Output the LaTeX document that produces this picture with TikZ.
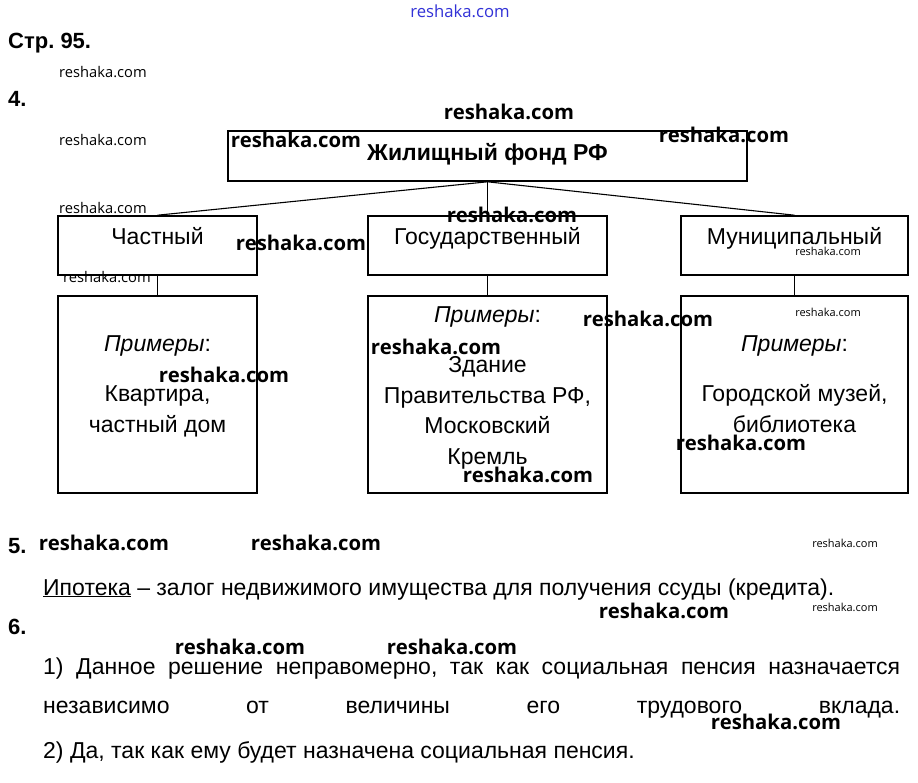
\documentclass[tikz,border=0pt]{standalone}
\usepackage{fontspec}
\setmainfont{Liberation Sans}
\newfontfamily\wmfont{Open Sans}
\usetikzlibrary{positioning}
\frenchspacing

\definecolor{wmblue}{RGB}{50,50,215}

\tikzset{
  box/.style={draw, line width=1.6pt, inner sep=0pt},
  link/.style={line width=1.1pt},
  txt/.style={font=\fontsize{23}{30.5}\selectfont, inner sep=0pt},
  head/.style={font=\bfseries\fontsize{23}{27}\selectfont, inner sep=0pt},
  num/.style={font=\bfseries\fontsize{22}{26}\selectfont, inner sep=0pt, anchor=base west},
  wm/.style={font=\wmfont\bfseries\fontsize{20.3}{24}\selectfont, inner sep=0pt},
  wmsmall/.style={font=\wmfont\fontsize{14.7}{17}\selectfont, inner sep=0pt},
  wmtiny/.style={font=\wmfont\fontsize{11}{13}\selectfont, inner sep=0pt},
  wmtop/.style={font=\wmfont\fontsize{16.7}{19}\selectfont, text=wmblue, inner sep=0pt},
}

\begin{document}
\begin{tikzpicture}[x=1pt,y=-1pt]
  \useasboundingbox (0,0) rectangle (918,782);
  \fill[white] (0,0) rectangle (918,782);

  % Page and task numbers
  \node[num] (page) at (8,48) {Стр. 95.};
  \node[num] (task4) at (8,106) {4.};

  % Root of the scheme
  \node[box, minimum width=519, minimum height=50] (root) at (487.5,156) {};
  \node[head, anchor=base] (rootT) at (487.5,160) {Жилищный фонд РФ};

  % Three kinds of ownership
  \node[box, minimum width=199, minimum height=59] (chast) at (157.5,245.5) {};
  \node[box, minimum width=239, minimum height=59] (gos) at (487.5,245.5) {};
  \node[box, minimum width=227, minimum height=59] (mun) at (794.5,245.5) {};
  \node[txt, anchor=base] (chastT) at (157.5,244) {Частный};
  \node[txt, anchor=base] (gosT) at (487.5,244) {Государственный};
  \node[txt, anchor=base] (munT) at (794.5,244) {Муниципальный};

  % Boxes with examples
  \node[box, minimum width=199, minimum height=197] (chastEx) at (157.5,394.5) {};
  \node[box, minimum width=239, minimum height=197] (gosEx) at (487.5,394.5) {};
  \node[box, minimum width=227, minimum height=197] (munEx) at (794.5,394.5) {};
  \node[txt, align=center, anchor=north] (chastExT) at (157.5,335.5)
    {\textit{Примеры}:\\[19.5pt]Квартира,\\частный дом};
  \node[txt, align=center, anchor=north] (gosExT) at (487.5,306.5)
    {\textit{Примеры}:\\[19.5pt]Здание\\Правительства РФ,\\Московский\\Кремль};
  \node[txt, align=center, anchor=north] (munExT) at (794.5,335.5)
    {\textit{Примеры}:\\[19.5pt]Городской музей,\\библиотека};

  % Connectors
  \draw[link] (root.south) -- (chast.north);
  \draw[link] (root.south) -- (gos.north);
  \draw[link] (root.south) -- (mun.north);
  \draw[link] (chast.south) -- (chastEx.north);
  \draw[link] (gos.south) -- (gosEx.north);
  \draw[link] (mun.south) -- (munEx.north);

  % Task 5
  \node[num] (task5) at (8,553) {5.};
  \node[txt, anchor=base west] (ipoteka) at (43,595)
    {\underline{Ипотека} – залог недвижимого имущества для получения ссуды (кредита).};

  % Task 6
  \node[num] (task6) at (8,634) {6.};
  \node[txt, anchor=base west] (ans1a) at (43,674)
    {\makebox[857pt][s]{1) Данное решение неправомерно, так как социальная пенсия назначается}};
  \node[txt, anchor=base west] (ans1b) at (43,713)
    {\makebox[857pt][s]{независимо от величины его трудового вклада.}};
  \node[txt, anchor=base west] (ans2) at (43,758)
    {2) Да, так как ему будет назначена социальная пенсия.};

  % Watermarks
  \node[wmtop] (wm0) at (460,11) {reshaka.com};
  \foreach \x/\y [count=\i] in {509/112, 296/140, 724/135, 512/215, 301/243,
      648/319, 436/347, 224/375, 741/443, 528/475, 104/543, 316/543,
      664/611, 240/647, 452/647, 776/722}
    \node[wm] (wm\i) at (\x,\y) {reshaka.com};
  \foreach \x/\y [count=\i] in {103/72, 103/140, 103/208, 107/277}
    \node[wmsmall] (wms\i) at (\x,\y) {reshaka.com};
  \foreach \x/\y [count=\i] in {828/251, 828/312, 845/543, 845/607}
    \node[wmtiny] (wmt\i) at (\x,\y) {reshaka.com};
\end{tikzpicture}
\end{document}
